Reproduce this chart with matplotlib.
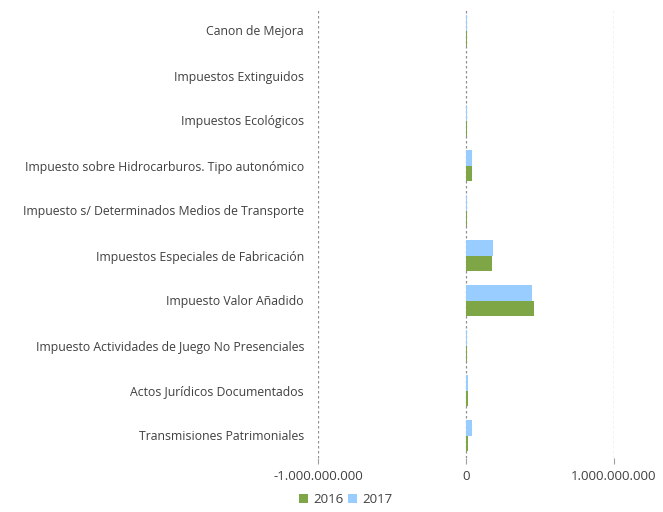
import matplotlib
matplotlib.use("Agg")
import matplotlib.pyplot as plt
import numpy as np

categories = [
    "Transmisiones Patrimoniales",
    "Actos Jurídicos Documentados",
    "Impuesto Actividades de Juego No Presenciales",
    "Impuesto Valor Añadido",
    "Impuestos Especiales de Fabricación",
    "Impuesto s/ Determinados Medios de Transporte",
    "Impuesto sobre Hidrocarburos. Tipo autonómico",
    "Impuestos Ecológicos",
    "Impuestos Extinguidos",
    "Canon de Mejora",
]
values_2016 = [13e6, 12e6, 4e6, 460e6, 176e6, 5e6, 40e6, 4e6, 0.5e6, 4e6]
values_2017 = [40e6, 13e6, 4e6, 446e6, 180e6, 4e6, 42e6, 4e6, 0.5e6, 4e6]
tick_values = [-1e9, 0, 1e9]
tick_labels = ["-1.000.000.000", "0", "1.000.000.000"]

plt.rcParams['font.family'] = ['Open Sans', 'DejaVu Sans']
fig = plt.figure(figsize=(6.63, 5.12), dpi=100)
ax = fig.add_axes([318/663, 1-458/512, (614-318)/663, (458-8)/512])

y = np.arange(len(categories))
h = 0.34
ax.barh(y - h/2, values_2016, height=h, color="#7EA646", label="2016", zorder=3)
ax.barh(y + h/2, values_2017, height=h, color="#99CCFF", label="2017", zorder=3)

ax.set_xlim(-1e9, 1e9)
ax.set_ylim(-0.5, len(categories) - 0.5)
ax.set_xticks(tick_values)
ax.set_xticklabels(tick_labels, fontsize=9.5, color="#404040")
ax.set_yticks(y)
ax.set_yticklabels(categories, fontsize=8.8, color="#404040")
ax.tick_params(axis='y', length=0, pad=10)
ax.tick_params(axis='x', length=4, color="#a0a0a0", pad=5)
for s in ax.spines.values():
    s.set_visible(False)
for xv in tick_values:
    ax.axvline(xv, color="#909090", linestyle=(0, (2, 2)), linewidth=0.9, zorder=1)

leg = fig.legend(loc="lower center", bbox_to_anchor=(346/663, -0.012), ncol=2, frameon=False,
                 fontsize=9.5, handlelength=0.65, handleheight=0.65, handletextpad=0.45,
                 columnspacing=0.3)
for t in leg.get_texts():
    t.set_color("#404040")

fig.savefig("out.png", dpi=100)
